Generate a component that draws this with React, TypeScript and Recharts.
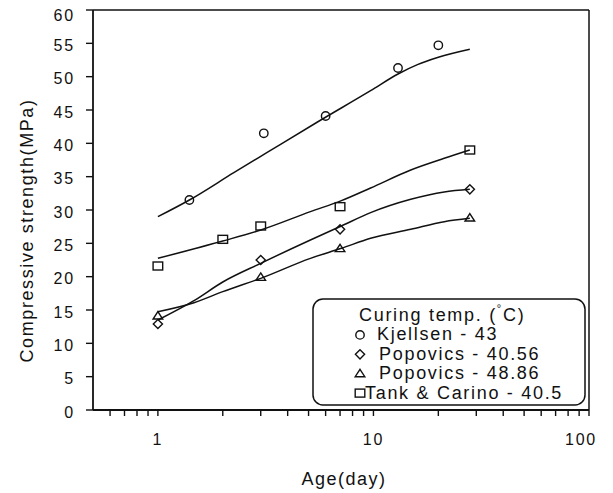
import {
  ComposedChart,
  XAxis,
  YAxis,
  Line,
  Scatter,
  ReferenceLine,
  Legend,
  Label,
} from 'recharts';

const FONT = '"Liberation Sans", Arial, sans-serif';

// measured strengths (MPa) against age (days)
const kjellsenAge = [1.4, 3.1, 6, 13, 20];
const kjellsenStrength = [31.5, 41.5, 44.1, 51.3, 54.7];
const popovics4056Age = [1, 3, 7, 28];
const popovics4056Strength = [12.9, 22.5, 27.1, 33.1];
const popovics4886Age = [1, 3, 7, 28];
const popovics4886Strength = [14.1, 19.9, 24.2, 28.8];
const tankAge = [1, 2, 3, 7, 28];
const tankStrength = [21.6, 25.6, 27.6, 30.5, 39.0];

// fitted strength-age curves
const kjellsenFitAge = [1, 1.4, 2.25, 3.2, 5.5, 9.7, 13, 16, 20, 28];
const kjellsenFit = [29.0, 31.5, 35.6, 38.6, 43.2, 47.9, 50.4, 51.8, 52.9, 54.1];
const popovics4056FitAge = [1, 1.47, 2, 3, 5.1, 7.1, 9.7, 14.9, 21.3, 28];
const popovics4056Fit = [13.5, 16.4, 19.2, 22.0, 25.5, 27.6, 29.6, 31.6, 32.7, 33.1];
const popovics4886FitAge = [1, 1.47, 2, 3, 5.1, 7.1, 9.7, 14.9, 21.3, 28];
const popovics4886Fit = [14.75, 16.1, 17.75, 19.75, 22.75, 24.25, 25.75, 27.1, 28.25, 28.75];
const tankFitAge = [1, 2, 3, 5.1, 7.1, 9.7, 14.9, 21.3, 28];
const tankFit = [22.75, 25.35, 27.0, 29.75, 31.4, 33.3, 36.0, 37.75, 39.0];

const ageTicks = [
  0.6, 0.7, 0.8, 0.9, 1, 2, 3, 4, 5, 6, 7, 8, 9, 10, 20, 30, 40, 50, 60, 70, 80, 90, 100,
];
const ageLabels = [1, 10, 100];
const strengthTicks = [0, 5, 10, 15, 20, 25, 30, 35, 40, 45, 50, 55, 60];

const legendTitle = 'Curing temp. (';
const legendNames = [
  'Kjellsen - 43',
  'Popovics - 40.56',
  'Popovics - 48.86',
  'Tank & Carino - 40.5',
];

const toRows = (ages: number[], values: number[]) =>
  ages.map((age, i) => ({ age, strength: values[i] }));

type Pt = { cx?: number; cy?: number };
const INK = '#111';

const CircleMark = ({ cx = 0, cy = 0 }: Pt) => (
  <circle cx={cx} cy={cy} r={4.2} fill="none" stroke={INK} strokeWidth={1.4} />
);
const DiamondMark = ({ cx = 0, cy = 0 }: Pt) => (
  <path
    d={`M${cx},${cy - 4.6}L${cx + 4.6},${cy}L${cx},${cy + 4.6}L${cx - 4.6},${cy}Z`}
    fill="none"
    stroke={INK}
    strokeWidth={1.4}
  />
);
const TriangleMark = ({ cx = 0, cy = 0 }: Pt) => (
  <path
    d={`M${cx},${cy - 4.4}L${cx + 4.8},${cy + 3}L${cx - 4.8},${cy + 3}Z`}
    fill="none"
    stroke={INK}
    strokeWidth={1.4}
  />
);
const SquareMark = ({ cx = 0, cy = 0 }: Pt) => (
  <rect x={cx - 4.8} y={cy - 4} width={9.6} height={8} fill="none" stroke={INK} strokeWidth={1.4} />
);

const AgeTick = ({ x, y, payload }: any) => {
  const v = payload.value;
  if (!ageLabels.includes(v)) return <g />;
  return (
    <text
      x={x + (v === 100 ? -8 : 0)}
      y={y}
      dy="0.71em"
      textAnchor="middle"
      fill={INK}
      fontSize={16}
      fontFamily={FONT}
      letterSpacing={1.8}
    >
      {v}
    </text>
  );
};

const StrengthTick = ({ x, y, payload }: any) => (
  <text
    x={x}
    y={y + (payload.value === 60 ? 5 : 2)}
    dy="0.355em"
    textAnchor="end"
    fill={INK}
    fontSize={16}
    fontFamily={FONT}
    letterSpacing={1.8}
  >
    {payload.value}
  </text>
);

const YTitle = ({ viewBox }: any) => {
  const x = viewBox.x + 32.5;
  const y = viewBox.y + viewBox.height / 2 + 20.5;
  return (
    <text
      x={x}
      y={y}
      transform={`rotate(-90 ${x} ${y})`}
      textAnchor="middle"
      fill={INK}
      fontSize={18}
      fontFamily={FONT}
      letterSpacing={1.6}
    >
      Compressive strength(MPa)
    </text>
  );
};

const XTitle = ({ viewBox }: any) => (
  <text
    x={viewBox.x + viewBox.width / 2 + 3}
    y={viewBox.y + 75}
    textAnchor="middle"
    fill={INK}
    fontSize={18}
    fontFamily={FONT}
    letterSpacing={1.5}
  >
    Age(day)
  </text>
);

const legendMarks = [CircleMark, DiamondMark, TriangleMark, SquareMark];
const legendTextX = [65, 67, 67, 53];

const CuringLegend = () => (
  <svg width={275} height={110}>
    <rect x={1} y={1} width={272} height={106} rx={10} fill="#fff" stroke={INK} strokeWidth={1.5} />
    <text x={47} y={23.4} fontSize={18} fontFamily={FONT} letterSpacing={1.7} fill={INK}>
      {legendTitle}
      <tspan fontSize={11} dy={-9}>°</tspan>
      <tspan dy={9}>C)</tspan>
    </text>
    {legendNames.map((name, i) => {
      const Mark = legendMarks[i];
      const base = 42.4 + i * 19.4;
      return (
        <g key={name}>
          <Mark cx={48} cy={base - 5.5} />
          <text x={legendTextX[i]} y={base} fontSize={18} fontFamily={FONT} letterSpacing={1.7} fill={INK}>
            {name}
          </text>
        </g>
      );
    })}
  </svg>
);

export default function App() {
  return (
    <div style={{ position: 'absolute', left: 0, top: 0 }}>
      <ComposedChart
        width={613}
        height={493}
        margin={{ top: 10, right: 24, bottom: 0, left: 0 }}
        style={{ fontFamily: FONT }}
      >
        <XAxis
          dataKey="age"
          type="number"
          scale="log"
          domain={[0.5, 100]}
          allowDataOverflow
          ticks={ageTicks}
          interval={0}
          height={83}
          tick={<AgeTick />}
          tickSize={6}
          tickMargin={17.6}
          axisLine={{ stroke: INK, strokeWidth: 1.8 }}
          tickLine={{ stroke: INK, strokeWidth: 1.4 }}
        >
          <Label content={XTitle} />
        </XAxis>
        <YAxis
          type="number"
          domain={[0, 60]}
          ticks={strengthTicks}
          interval={0}
          width={93}
          tick={<StrengthTick />}
          tickSize={7}
          tickMargin={11}
          axisLine={{ stroke: INK, strokeWidth: 1.8 }}
          tickLine={{ stroke: INK, strokeWidth: 1.4 }}
        >
          <Label content={YTitle} />
        </YAxis>
        <ReferenceLine y={60} stroke={INK} strokeWidth={1.5} />
        <ReferenceLine x={100} stroke={INK} strokeWidth={1.5} />

        <Line data={toRows(kjellsenFitAge, kjellsenFit)} dataKey="strength" type="monotone" stroke={INK} strokeWidth={1.5} dot={false} isAnimationActive={false} />
        <Line data={toRows(popovics4056FitAge, popovics4056Fit)} dataKey="strength" type="monotone" stroke={INK} strokeWidth={1.5} dot={false} isAnimationActive={false} />
        <Line data={toRows(popovics4886FitAge, popovics4886Fit)} dataKey="strength" type="monotone" stroke={INK} strokeWidth={1.5} dot={false} isAnimationActive={false} />
        <Line data={toRows(tankFitAge, tankFit)} dataKey="strength" type="monotone" stroke={INK} strokeWidth={1.5} dot={false} isAnimationActive={false} />

        <Scatter data={toRows(kjellsenAge, kjellsenStrength)} dataKey="strength" shape={CircleMark} isAnimationActive={false} />
        <Scatter data={toRows(popovics4056Age, popovics4056Strength)} dataKey="strength" shape={DiamondMark} isAnimationActive={false} />
        <Scatter data={toRows(popovics4886Age, popovics4886Strength)} dataKey="strength" shape={TriangleMark} isAnimationActive={false} />
        <Scatter data={toRows(tankAge, tankStrength)} dataKey="strength" shape={SquareMark} isAnimationActive={false} />

        <Legend
          layout="vertical"
          align="center"
          verticalAlign="middle"
          content={<CuringLegend />}
          wrapperStyle={{ position: 'absolute', left: 312, top: 298, width: 275, height: 110 }}
        />
      </ComposedChart>
    </div>
  );
}
